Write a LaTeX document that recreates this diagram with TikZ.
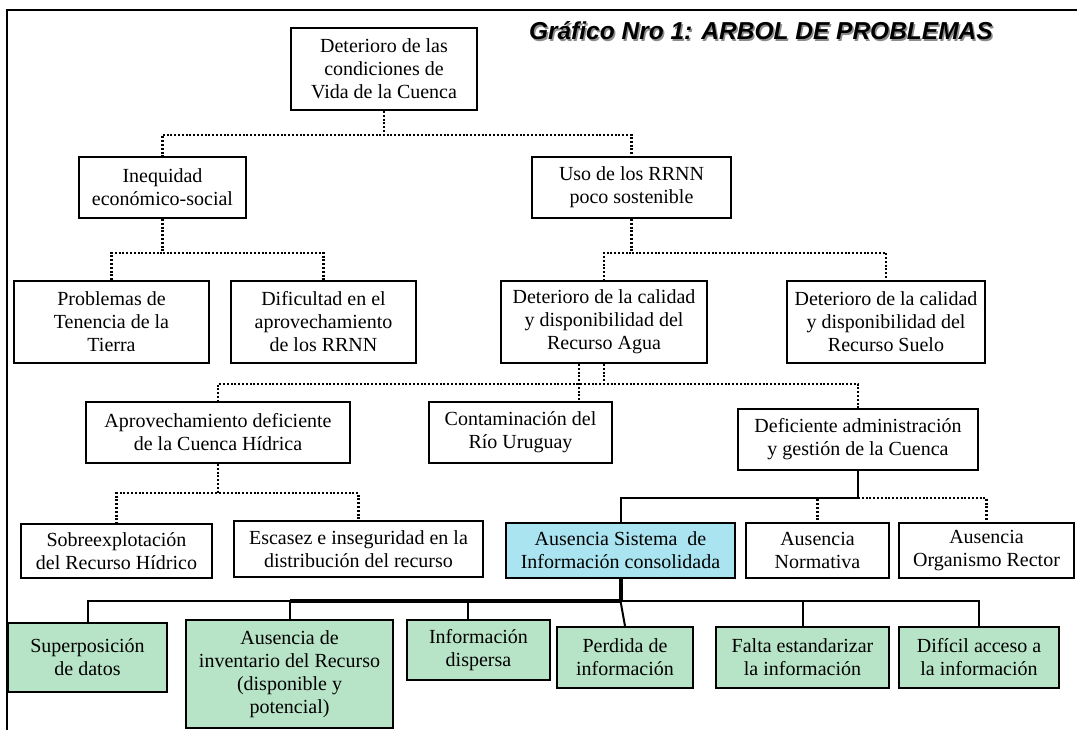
\documentclass[tikz,border=0pt]{standalone}
\usepackage{fontspec}
\setmainfont{Liberation Serif}
\newfontfamily\titlefont{Liberation Sans}
\definecolor{celeste}{RGB}{170,228,240}
\definecolor{verdeclaro}{RGB}{183,228,199}

\begin{document}
\begin{tikzpicture}[x=1pt, y=-1pt,
    every node/.style={draw, line width=2pt, align=center, inner sep=0pt,
      font=\fontsize{20}{23}\selectfont},
    caja/.style 2 args={minimum width=#1pt, minimum height=#2pt},
    punteado/.style={line width=2.2pt, dash pattern=on 2pt off 1.8pt},
    solido/.style={line width=2pt}]

		  \useasboundingbox (0,0) rectangle (1077,730);
		  \draw[line width=2.2pt] (7,730) -- (7,10) -- (1077,10);

		  % Title
		  \node[draw=none, text=black!45, anchor=base west, font=\titlefont\fontsize{24.5}{28}\selectfont\bfseries\itshape] (T0) at (529.5,41.5) {Gráfico Nro 1: ARBOL DE PROBLEMAS};
		  \node[draw=none, anchor=base west, font=\titlefont\fontsize{24.5}{28}\selectfont\bfseries\itshape] (T) at (528,40) {Gráfico Nro 1: ARBOL DE PROBLEMAS};

		  % Nodes A
		  \node[caja={186}{82}] (A1) at (384,69) {Deterioro de las\\condiciones de\\Vida de la Cuenca};

		  % Nodes B
		  \node[caja={167}{61}] (B1) at (162.5,187.5) {Inequidad\\económico-social};
		  \node[caja={199}{61}] (B2) at (631.5,187.5) {Uso de los RRNN\\poco sostenible};

		  % Nodes C
		  \node[caja={195}{82}] (C1) at (111.5,322) {Problemas de\\Tenencia de la\\Tierra};
		  \node[caja={185}{82}] (C2) at (323.5,322) {Dificultad en el\\aprovechamiento\\de los RRNN};
		  \node[caja={206}{82}] (C3) at (604,322) {Deterioro de la calidad\\y disponibilidad del\\Recurso Agua};
		  \node[caja={198}{82}] (C4) at (886,322) {Deterioro de la calidad\\y disponibilidad del\\Recurso Suelo};

		  % Nodes D
		  \node[caja={264}{61}] (D1) at (218,432.5) {Aprovechamiento deficiente\\de la Cuenca Hídrica};
		  \node[caja={183}{61}] (D2) at (520.5,432.5) {Contaminación del\\Río Uruguay};
		  \node[caja={240}{61}] (D3) at (858,439.5) {Deficiente administración\\y gestión de la Cuenca};

		  % Nodes E
		  \node[caja={191}{54}] (E1) at (116.5,551) {Sobreexplotación\\del Recurso Hídrico};
		  \node[caja={249}{56}] (E2) at (358.5,549) {Escasez e inseguridad en la\\distribución del recurso};
		  \node[caja={229}{55}, fill=celeste] (E3) at (620.5,550.5) {Ausencia Sistema~ de\\Información consolidada};
		  \node[caja={143}{55}] (E4) at (817.5,550.5) {Ausencia\\Normativa};
		  \node[caja={175}{55}] (E5) at (986.5,550.5) {Ausencia\\Organismo Rector};

		  % Nodes F
		  \node[caja={159}{69}, fill=verdeclaro] (F1) at (87.5,657.5) {Superposición\\de datos};
		  \node[caja={207}{108}, fill=verdeclaro] (F2) at (289.5,674) {Ausencia de\\inventario del Recurso\\(disponible y\\potencial)};
		  \node[caja={143}{60}, fill=verdeclaro] (F3) at (478.5,650) {Información\\dispersa};
		  \node[caja={136}{61}, fill=verdeclaro] (F4) at (625,657.5) {Perdida de\\información};
		  \node[caja={173}{61}, fill=verdeclaro] (F5) at (802.5,657.5) {Falta estandarizar\\la información};
		  \node[caja={160}{61}, fill=verdeclaro] (F6) at (979,657.5) {Difícil acceso a\\la información};

		  % Draw edges A to B
		  \draw[punteado] (A1.south) -- ++(0,24) -| (B1.north);
		  \draw[punteado] (A1.south) -- ++(0,24) -| (B2.north);

		  % Draw edges B to C
		  \draw[punteado] (B1.south) -- ++(0,34) -| (C1.north);
		  \draw[punteado] (B1.south) -- ++(0,34) -| (C2.north);
		  \draw[punteado] (B2.south) -- ++(0,34) -| (C3.north);
		  \draw[punteado] (B2.south) -- ++(0,34) -| (C4.north);

		  % Draw edges C to D
		  \draw[punteado] (C3.south) -- ++(0,20) -| (D1.north);
		  \draw[punteado] (C3.south) -- ++(0,20) -| (D3.north);
		  \coordinate (c3l) at ([xshift=-25pt]C3.south);
		  \draw[punteado] (c3l) -- (c3l |- D2.north);

		  % Draw edges D to E
		  \draw[punteado] (D1.south) -- ++(0,29) -| (E1.north);
		  \draw[punteado] (D1.south) -- ++(0,29) -| (E2.north);
		  \path (D3.south) ++(0,27) coordinate (d3b);
		  \draw[solido] (D3.south) -- (d3b) -| (E3.north);
		  \draw[punteado] (d3b) -| (E4.north);
		  \draw[punteado] (d3b) -| (E5.north);

		  % Draw edges E to F
		  \path (E3.south) ++(0,22) coordinate (e3b);
		  \draw[line width=4pt] (E3.south) -- (e3b);
		  \foreach \j in {1,2,5,6} {
		    \draw[solido] (e3b) -| (F\j.north);
		  }
		  \draw[solido] (e3b) -| ([xshift=-11pt]F3.north);
		  \draw[solido] (e3b) -- (F4.north);
		  \draw[line width=3.5pt] (e3b) -- (e3b -| F2.north);

		\end{tikzpicture}
\end{document}
